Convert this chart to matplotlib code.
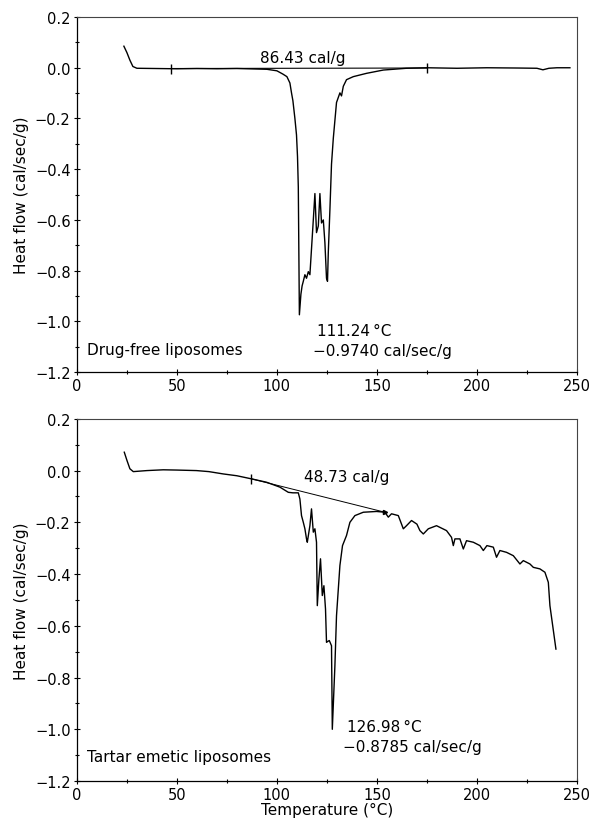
import matplotlib
matplotlib.use("Agg")
import matplotlib.pyplot as plt
from matplotlib.ticker import MultipleLocator

plt.rcParams['font.family'] = ['DejaVu Sans']

# ---- Top panel: drug-free liposomes ----
t_top = [23.5, 25, 26.5, 28, 30, 40, 50, 60, 70, 80, 90, 95, 100, 103, 105, 106.5,
         107.3, 108, 109, 109.8, 110.3, 110.7, 111.24, 112, 112.6, 113.2, 114, 114.8,
         115.7, 116.5, 117.3, 118.2, 119, 119.8, 120.7, 121.5, 122.3, 123.2, 124,
         124.8, 125.3, 125.7, 126.5, 127.3, 128.2, 129.8, 131.5, 132.3, 133.2, 134.8,
         138.2, 144.8, 153.2, 164.8, 175, 190, 205, 220, 230, 233, 236, 240, 246.5]
h_top = [0.085, 0.06, 0.03, 0.005, -0.002, -0.003, -0.004, -0.003, -0.004, -0.003,
         -0.005, -0.006, -0.012, -0.025, -0.035, -0.06, -0.099, -0.13, -0.2, -0.265,
         -0.35, -0.47, -0.974, -0.893, -0.86, -0.842, -0.816, -0.83, -0.804, -0.816,
         -0.714, -0.6, -0.496, -0.65, -0.624, -0.496, -0.612, -0.6, -0.69, -0.83,
         -0.842, -0.727, -0.56, -0.38, -0.278, -0.137, -0.099, -0.111, -0.073, -0.047,
         -0.035, -0.022, -0.009, -0.002, 0.0, -0.002, 0.0, -0.001, -0.002, -0.008,
         -0.002, 0.0, 0.0]
base_top_t = [47, 175]
base_top_h = [-0.003, -0.001]

# ---- Bottom panel: tartar emetic liposomes ----
t_bot = [23.7, 25, 26.5, 28.2, 35, 43.2, 50, 59.8, 66, 73.2, 80, 87.3, 94.8, 101.5,
         105.7, 108, 110.7, 111.5, 112.3, 113.2, 114, 114.8, 115.2, 116.5, 117.3, 118.2,
         119, 119.8, 120.2, 121, 121.8, 122.7, 123.5, 124.3, 124.8, 125.5, 126.2, 127.3,
         127.7, 129, 129.8, 131.5, 132.8, 134.8, 136.5, 139, 143.2, 149.8, 154, 155.7,
         157.3, 160.7, 163.2, 164.8, 167.3, 170, 171.5, 173.2, 175.7, 179.8, 184.8,
         187.3, 188.2, 189, 191.5, 193.2, 194.8, 198.2, 201.5, 203.2, 205, 208.2, 209.8,
         211.5, 214.8, 218.2, 221.5, 223.2, 226.5, 228.2, 231.5, 234, 235.7, 236.5, 239.5]
h_bot = [0.071, 0.04, 0.007, -0.004, 0.0, 0.003, 0.002, 0.0, -0.004, -0.013, -0.02,
         -0.032, -0.045, -0.064, -0.084, -0.086, -0.086, -0.11, -0.174, -0.2, -0.225,
         -0.264, -0.277, -0.213, -0.148, -0.238, -0.225, -0.277, -0.522, -0.419, -0.341,
         -0.483, -0.445, -0.535, -0.664, -0.66, -0.657, -0.677, -1.0, -0.754, -0.561,
         -0.367, -0.29, -0.251, -0.2, -0.174, -0.161, -0.158, -0.161, -0.18, -0.167,
         -0.174, -0.225, -0.213, -0.193, -0.207, -0.232, -0.245, -0.225, -0.213, -0.232,
         -0.258, -0.29, -0.264, -0.264, -0.303, -0.271, -0.277, -0.29, -0.309, -0.29,
         -0.296, -0.335, -0.309, -0.316, -0.329, -0.361, -0.348, -0.361, -0.374, -0.38,
         -0.393, -0.432, -0.522, -0.69]
base_bot_t = [87.3, 154]
base_bot_h = [-0.032, -0.161]

fig = plt.figure(figsize=(5.96, 8.2), dpi=100)
ax1 = fig.add_axes([0.129, 0.545, 0.839, 0.433])
ax2 = fig.add_axes([0.129, 0.0463, 0.839, 0.4417])

def style(ax):
    ax.set_xlim(0, 250)
    ax.set_ylim(-1.2, 0.2)
    ax.xaxis.set_major_locator(MultipleLocator(50))
    ax.xaxis.set_minor_locator(MultipleLocator(25))
    ax.yaxis.set_major_locator(MultipleLocator(0.2))
    ax.yaxis.set_minor_locator(MultipleLocator(0.1))
    ax.yaxis.set_major_formatter(matplotlib.ticker.FuncFormatter(
        lambda v, p: ("%.1f" % v).replace("-", "\u2212") if abs(v) > 1e-9 else "0.0"))
    ax.tick_params(axis='both', which='major', direction='inout', length=5,
                   width=0.8, labelsize=10.5, pad=2)
    ax.tick_params(axis='both', which='minor', direction='inout', length=3, width=0.8)
    for s in ['left', 'bottom']:
        ax.spines[s].set_linewidth(0.9)
    for s in ['top', 'right']:
        ax.spines[s].set_linewidth(0.8)
        ax.spines[s].set_color('#444444')
    ax.set_ylabel('Heat flow (cal/sec/g)', fontsize=11, labelpad=4)

style(ax1)
style(ax2)

ax1.plot(t_top, h_top, color='black', lw=1.0)
ax1.plot(base_top_t, base_top_h, color='black', lw=0.8, marker='|', markersize=7)
ax1.text(113, 0.01, '86.43 cal/g', fontsize=11, ha='center', va='bottom')
ax1.text(5, -1.11, 'Drug-free liposomes', fontsize=11, ha='left', va='center')
ax1.text(120, -1.035, '111.24\u2009°C', fontsize=11, ha='left', va='center',
         family=['DejaVu Sans'])
ax1.text(118, -1.115, '\u22120.9740 cal/sec/g', fontsize=11, ha='left', va='center')

ax2.plot(t_bot, h_bot, color='black', lw=1.0)
ax2.plot(base_bot_t, base_bot_h, color='black', lw=0.7)
ax2.plot(base_bot_t[:1], base_bot_h[:1], color='black', marker='|', markersize=7)
ax2.plot(base_bot_t[1:], base_bot_h[1:], color='black', marker='>', markersize=3)
ax2.text(135, -0.05, '48.73 cal/g', fontsize=11, ha='center', va='bottom')
ax2.text(5, -1.105, 'Tartar emetic liposomes', fontsize=11, ha='left', va='center')
ax2.text(135, -0.99, '126.98\u2009°C', fontsize=11, ha='left', va='center')
ax2.text(133, -1.065, '\u22120.8785 cal/sec/g', fontsize=11, ha='left', va='center')
ax2.set_xlabel('Temperature (°C)', fontsize=11, labelpad=0)

fig.savefig('out.png', dpi=100)
